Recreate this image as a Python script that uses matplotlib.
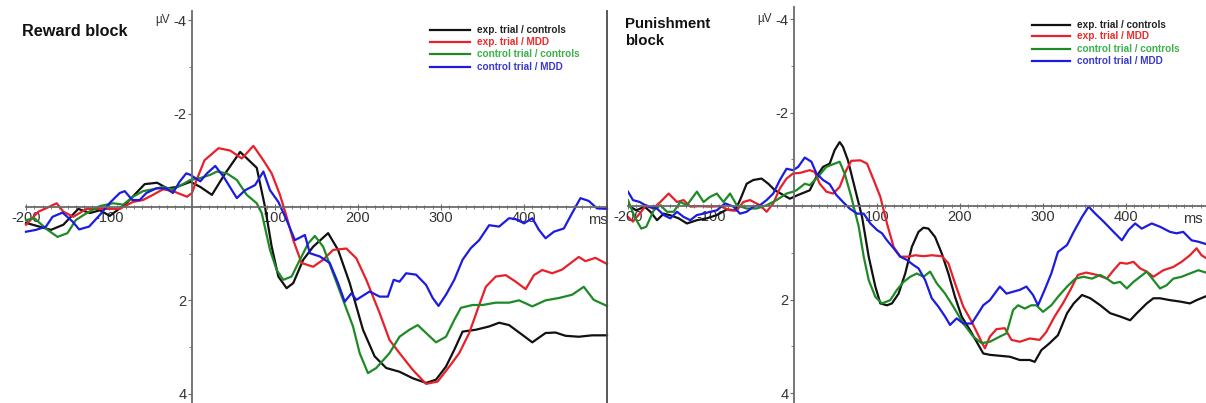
import matplotlib
matplotlib.use("Agg")
import matplotlib.pyplot as plt
from matplotlib.lines import Line2D

plt.rcParams["font.family"] = ["Liberation Sans", "DejaVu Sans"]
plt.rcParams["axes.unicode_minus"] = False

# ---- condition labels and colours ----
conditions = ["exp. trial / controls", "exp. trial / MDD",
              "control trial / controls", "control trial / MDD"]
line_colors = ["#111111", "#e8202a", "#1e8a26", "#1c1ce0"]
legend_text_colors = ["#222222", "#ee2a2a", "#3cb04a", "#3a3ad0"]

# ---- Reward block waveforms (ms, µV) ----
rew_exp_ctl_t = [-200, -170, -155, -137, -123, -111, -99, -79, -57, -42,
                 -30, -18, -2, 10, 24, 40, 58, 78, 88, 96,
                 104, 114, 122, 134, 146, 164, 176, 190, 206, 220,
                 234, 250, 266, 282, 294, 306, 316, 326, 342, 358,
                 370, 382, 398, 410, 426, 438, 450, 466, 482, 500]
rew_exp_ctl_v = [0.34, 0.49, 0.38, 0.04, 0.13, 0.07, 0.19, -0.08, -0.49, -0.52,
                 -0.40, -0.43, -0.54, -0.43, -0.26, -0.72, -1.18, -0.84, 0.0, 0.85,
                 1.49, 1.74, 1.63, 1.13, 0.85, 0.56, 0.92, 1.63, 2.63, 3.2,
                 3.45, 3.53, 3.67, 3.77, 3.70, 3.42, 3.06, 2.67, 2.63, 2.56,
                 2.48, 2.53, 2.74, 2.9, 2.7, 2.69, 2.76, 2.78, 2.75, 2.75]

rew_exp_mdd_t = [-200, -185, -175, -163, -155, -143, -127, -107, -87, -71,
                 -59, -47, -35, -23, -6, 0, 6, 15, 32, 46,
                 60, 74, 86, 96, 106, 114, 122, 132, 146, 158,
                 170, 186, 198, 210, 226, 238, 250, 266, 282, 296,
                 310, 322, 334, 344, 354, 366, 378, 390, 402, 412,
                 422, 434, 446, 466, 474, 486, 500]
rew_exp_mdd_v = [0.38, 0.10, 0.02, -0.08, 0.10, 0.21, 0.04, 0.04, 0.04, -0.11,
                 -0.15, -0.26, -0.38, -0.34, -0.22, -0.30, -0.60, -1.0, -1.26, -1.21,
                 -1.04, -1.31, -1.0, -0.72, -0.26, 0.21, 0.71, 1.2, 1.28, 1.13,
                 0.92, 0.89, 1.1, 1.56, 2.27, 2.85, 3.13, 3.49, 3.79, 3.74,
                 3.42, 3.13, 2.7, 2.2, 1.71, 1.49, 1.46, 1.6, 1.76, 1.46,
                 1.35, 1.42, 1.34, 1.07, 1.16, 1.09, 1.22]

rew_ctl_ctl_t = [-200, -190, -174, -162, -150, -140, -126, -111, -95, -83,
                 -71, -59, -47, -35, -23, -11, -2, 10, 22, 30,
                 42, 54, 66, 78, 84, 94, 102, 110, 120, 130,
                 140, 148, 158, 170, 182, 194, 202, 212, 222, 238,
                 250, 262, 272, 282, 294, 306, 316, 324, 338, 350,
                 366, 382, 394, 410, 426, 442, 458, 472, 484, 500]
rew_ctl_ctl_v = [0.28, 0.24, 0.49, 0.64, 0.56, 0.28, 0.12, -0.02, -0.08, -0.05,
                 -0.22, -0.34, -0.38, -0.43, -0.38, -0.49, -0.58, -0.62, -0.69, -0.76,
                 -0.72, -0.58, -0.26, -0.08, 0.13, 0.92, 1.35, 1.56, 1.49, 1.13,
                 0.78, 0.62, 0.85, 1.42, 1.99, 2.56, 3.13, 3.56, 3.45, 3.13,
                 2.78, 2.63, 2.53, 2.70, 2.90, 2.78, 2.42, 2.16, 2.10, 2.10,
                 2.05, 2.05, 2.00, 2.13, 2.00, 1.95, 1.88, 1.71, 1.99, 2.12]

rew_ctl_mdd_t = [-200, -188, -176, -168, -156, -144, -136, -124, -111, -99,
                 -87, -81, -72, -63, -55, -43, -31, -23, -15, -7,
                 -2, 10, 18, 28, 38, 54, 64, 76, 86, 94,
                 104, 114, 124, 136, 142, 154, 166, 176, 184, 192,
                 198, 214, 226, 236, 243, 250, 258, 270, 282, 290,
                 297, 306, 316, 326, 336, 346, 358, 370, 382, 390,
                 400, 410, 418, 426, 436, 448, 458, 468, 478, 488, 500]
rew_ctl_mdd_v = [0.53, 0.49, 0.42, 0.21, 0.12, 0.31, 0.48, 0.42, 0.17, -0.09,
                 -0.30, -0.34, -0.15, -0.15, -0.30, -0.40, -0.40, -0.30, -0.54, -0.72,
                 -0.69, -0.55, -0.72, -0.88, -0.65, -0.19, -0.36, -0.47, -0.76, -0.36,
                 -0.11, 0.28, 0.71, 0.60, 0.99, 1.06, 1.20, 1.63, 2.03, 1.85,
                 1.99, 1.81, 1.92, 1.92, 1.56, 1.60, 1.42, 1.45, 1.67, 1.95,
                 2.12, 1.88, 1.56, 1.13, 0.88, 0.71, 0.39, 0.42, 0.24, 0.26,
                 0.35, 0.24, 0.49, 0.67, 0.53, 0.46, 0.13, -0.19, -0.13, 0.03, 0.04]

# ---- Punishment block waveforms (ms, µV) ----
pun_exp_ctl_t = [-200, -190, -180, -173, -165, -157, -148, -139, -129, -117,
                 -105, -93, -81, -71, -65, -57, -49, -39, -31, -23,
                 -13, -5, 5, 19, 27, 35, 43, 49, 55, 59,
                 65, 73, 82, 90, 98, 104, 112, 118, 126, 134,
                 142, 150, 156, 162, 170, 178, 186, 194, 202, 212,
                 220, 228, 236, 248, 260, 272, 284, 290, 298, 308,
                 318, 329, 337, 347, 357, 369, 381, 393, 405, 413,
                 425, 433, 441, 453, 465, 477, 485, 500]
pun_exp_ctl_v = [-0.02, 0.09, 0.01, 0.12, 0.30, 0.16, 0.20, 0.26, 0.37, 0.30,
                 0.26, 0.19, 0.07, 0.09, -0.13, -0.48, -0.56, -0.59, -0.48, -0.34,
                 -0.24, -0.16, -0.24, -0.34, -0.63, -0.84, -0.91, -1.20, -1.37, -1.27,
                 -0.98, -0.41, 0.23, 1.08, 1.72, 2.08, 2.12, 2.08, 1.87, 1.44,
                 0.87, 0.55, 0.46, 0.48, 0.66, 1.01, 1.44, 1.94, 2.36, 2.65,
                 2.90, 3.15, 3.18, 3.20, 3.22, 3.29, 3.29, 3.33, 3.08, 2.93,
                 2.76, 2.29, 2.08, 1.90, 1.97, 2.12, 2.29, 2.36, 2.44, 2.29,
                 2.08, 1.97, 1.97, 2.01, 2.04, 2.08, 2.01, 1.90]

pun_exp_mdd_t = [-200, -194, -186, -178, -170, -161, -151, -141, -133, -125,
                 -113, -101, -89, -77, -69, -61, -53, -41, -33, -25,
                 -17, -9, -1, 7, 19, 25, 31, 39, 47, 55,
                 63, 69, 80, 88, 96, 104, 112, 120, 128, 138,
                 146, 156, 166, 178, 186, 194, 204, 214, 224, 230,
                 236, 244, 254, 262, 272, 284, 296, 304, 314, 324,
                 333, 342, 352, 365, 377, 385, 393, 401, 409, 417,
                 425, 433, 445, 457, 467, 477, 485, 491, 500]
pun_exp_mdd_v = [0.23, 0.33, 0.16, -0.02, 0.05, -0.09, -0.27, -0.09, -0.13, 0.01,
                 0.0, 0.01, 0.0, 0.09, 0.09, -0.09, -0.13, -0.02, 0.12, -0.06,
                 -0.38, -0.59, -0.70, -0.71, -0.77, -0.73, -0.48, -0.31, -0.27, -0.41,
                 -0.77, -0.97, -0.98, -0.91, -0.56, -0.20, 0.37, 0.87, 1.08, 1.08,
                 1.05, 1.07, 1.05, 1.07, 1.22, 1.65, 2.15, 2.47, 2.83, 3.04,
                 2.79, 2.63, 2.61, 2.86, 2.90, 2.83, 2.86, 2.69, 2.36, 2.08,
                 1.79, 1.47, 1.42, 1.47, 1.55, 1.37, 1.21, 1.23, 1.19, 1.33,
                 1.40, 1.51, 1.37, 1.30, 1.19, 1.05, 0.90, 1.05, 1.15]

pun_ctl_ctl_t = [-200, -192, -184, -178, -169, -161, -153, -145, -137, -129,
                 -117, -109, -101, -93, -85, -77, -69, -57, -45, -33,
                 -21, -9, -1, 3, 13, 19, 29, 39, 49, 55,
                 61, 69, 78, 84, 90, 98, 106, 116, 124, 132,
                 140, 148, 156, 164, 172, 182, 192, 204, 216, 226,
                 236, 248, 256, 264, 270, 278, 286, 292, 300, 310,
                 318, 329, 339, 349, 359, 369, 377, 385, 393, 401,
                 409, 417, 425, 433, 441, 449, 457, 467, 477, 487, 500]
pun_ctl_ctl_v = [-0.13, 0.23, 0.48, 0.44, 0.09, -0.02, 0.12, 0.12, -0.09, -0.02,
                 -0.31, -0.09, -0.20, -0.27, -0.09, -0.27, -0.02, 0.05, 0.05, -0.02,
                 -0.13, -0.27, -0.31, -0.34, -0.48, -0.45, -0.63, -0.84, -0.91, -0.95,
                 -0.70, -0.20, 0.44, 1.08, 1.58, 1.94, 2.08, 2.01, 1.79, 1.62,
                 1.51, 1.44, 1.51, 1.40, 1.65, 1.87, 2.15, 2.51, 2.79, 2.93,
                 2.90, 2.79, 2.72, 2.22, 2.12, 2.19, 2.12, 2.12, 2.26, 2.12,
                 1.94, 1.72, 1.55, 1.51, 1.55, 1.47, 1.55, 1.65, 1.62, 1.76,
                 1.62, 1.51, 1.40, 1.58, 1.76, 1.69, 1.55, 1.51, 1.44, 1.37, 1.44]

pun_ctl_mdd_t = [-200, -194, -186, -176, -165, -157, -149, -141, -133, -125,
                 -117, -109, -101, -93, -83, -73, -65, -57, -49, -41,
                 -33, -25, -17, -9, -1, 5, 13, 21, 27, 35,
                 43, 51, 59, 67, 76, 84, 92, 100, 106, 112,
                 120, 128, 136, 144, 150, 158, 166, 174, 182, 188,
                 196, 204, 214, 222, 228, 236, 248, 256, 264, 272,
                 280, 288, 294, 302, 310, 318, 329, 337, 347, 355,
                 363, 373, 385, 395, 403, 411, 419, 431, 441, 453,
                 461, 469, 479, 487, 500]
pun_ctl_mdd_v = [-0.31, -0.13, -0.09, 0.01, 0.05, 0.19, 0.26, 0.12, 0.23, 0.30,
                 0.19, 0.16, 0.12, 0.09, -0.06, 0.01, 0.16, 0.12, 0.01, -0.02,
                 -0.13, -0.27, -0.56, -0.80, -0.77, -0.84, -1.04, -0.95, -0.70, -0.56,
                 -0.47, -0.24, -0.09, 0.05, 0.16, 0.16, 0.37, 0.51, 0.58, 0.73,
                 0.90, 1.08, 1.15, 1.26, 1.33, 1.58, 1.97, 2.15, 2.36, 2.54,
                 2.40, 2.51, 2.51, 2.29, 2.12, 2.01, 1.72, 1.87, 1.83, 1.79,
                 1.72, 1.90, 2.12, 1.79, 1.44, 0.98, 0.83, 0.55, 0.23, 0.01,
                 0.16, 0.33, 0.55, 0.73, 0.51, 0.37, 0.48, 0.37, 0.44, 0.55,
                 0.58, 0.55, 0.73, 0.76, 0.83]

x_ticks = [-200, -100, 100, 200, 300, 400]
x_ticklabels = ["-200", "-100", "100", "200", "300", "400"]
y_ticks = [-4, -2, 2, 4]
y_ticklabels = ["-4", "-2", "2", "4"]

W, H = 1206, 403
fig = plt.figure(figsize=(W / 100, H / 100), dpi=100)
fig.patch.set_facecolor("white")

AXIS_COLOR = "#6a6a6a"
TEXT_COLOR = "#333333"


def setup_axes(ax, ylim, ms_pos):
    ax.set_xlim(-200, 500)
    ax.set_ylim(*ylim)
    for side in ("top", "right"):
        ax.spines[side].set_visible(False)
    ax.spines["left"].set_position(("data", 0))
    ax.spines["bottom"].set_position(("data", 0))
    for side in ("left", "bottom"):
        ax.spines[side].set_color(AXIS_COLOR)
        ax.spines[side].set_linewidth(1.3)
    ax.set_xticks(x_ticks)
    ax.set_xticklabels(x_ticklabels)
    ax.set_xticks(range(-200, 501, 10), minor=True)
    ax.set_yticks(y_ticks)
    ax.set_yticklabels(y_ticklabels)
    ax.set_yticks([-3, -1, 1, 3], minor=True)
    ax.tick_params(axis="x", which="major", direction="inout", length=4,
                   width=0.8, color=AXIS_COLOR, labelsize=10.5,
                   labelcolor=TEXT_COLOR, pad=1)
    ax.tick_params(axis="x", which="minor", direction="inout", length=2.5,
                   width=0.6, color=AXIS_COLOR)
    ax.tick_params(axis="y", which="major", direction="out", length=3,
                   width=0.8, color=AXIS_COLOR, labelsize=10.5,
                   labelcolor=TEXT_COLOR, pad=1)
    ax.tick_params(axis="y", which="minor", direction="out", length=2,
                   width=0.6, color=AXIS_COLOR)
    ax.patch.set_alpha(0)
    ax.annotate("ms", xy=(ms_pos, 0), xytext=(0, -4.2), textcoords="offset points",
                ha="center", va="top", fontsize=10.5, color=TEXT_COLOR)
    ax.text(-27, -4, "µV", ha="right", va="center", fontsize=8.5,
            color=TEXT_COLOR)


def draw_legend(x0, x1, xt, rows):
    for name, lc, tc, yy in zip(conditions, line_colors, legend_text_colors, rows):
        fig.add_artist(Line2D([x0 / W, x1 / W], [1 - yy / H, 1 - yy / H],
                              color=lc, lw=1.6, transform=fig.transFigure))
        fig.text(xt / W, 1 - yy / H, name, color=tc, fontsize=7.2,
                 fontweight="bold", ha="left", va="center")


# Reward block panel
ax1 = fig.add_axes([26 / W, 0, 581 / W, 392 / H])
setup_axes(ax1, (4.2, -4.2), 489)
rew_series = [(rew_exp_ctl_t, rew_exp_ctl_v), (rew_exp_mdd_t, rew_exp_mdd_v),
              (rew_ctl_ctl_t, rew_ctl_ctl_v), (rew_ctl_mdd_t, rew_ctl_mdd_v)]
for (t, v), c in zip(rew_series, line_colors):
    ax1.plot(t, v, color=c, lw=1.6, solid_joinstyle="round", clip_on=False)

# Punishment block panel
ax2 = fig.add_axes([628 / W, 0, 581 / W, 396 / H])
setup_axes(ax2, (4.21, -4.26), 481)
pun_series = [(pun_exp_ctl_t, pun_exp_ctl_v), (pun_exp_mdd_t, pun_exp_mdd_v),
              (pun_ctl_ctl_t, pun_ctl_ctl_v), (pun_ctl_mdd_t, pun_ctl_mdd_v)]
for (t, v), c in zip(pun_series, line_colors):
    ax2.plot(t, v, color=c, lw=1.6, solid_joinstyle="round")

# Panel titles
fig.text(22 / W, 1 - 31 / H, "Reward block", fontsize=11.7, fontweight="bold",
         ha="left", va="center", color="#111111")
fig.text(625 / W, 1 - 24 / H, "Punishment", fontsize=10.8, fontweight="bold",
         ha="left", va="center", color="#111111")
fig.text(625 / W, 1 - 41 / H, "block", fontsize=10.8, fontweight="bold",
         ha="left", va="center", color="#111111")

# Legends
draw_legend(430, 470, 477, [30, 42, 54, 67])
draw_legend(1032, 1070, 1077, [25, 36, 49, 61])

# Divider between the two panels
fig.add_artist(Line2D([607 / W, 607 / W], [0, 1 - 11 / H], color="#4a4a4a",
                      lw=1.3, transform=fig.transFigure))

fig.savefig("out.png", dpi=100, facecolor="white")
